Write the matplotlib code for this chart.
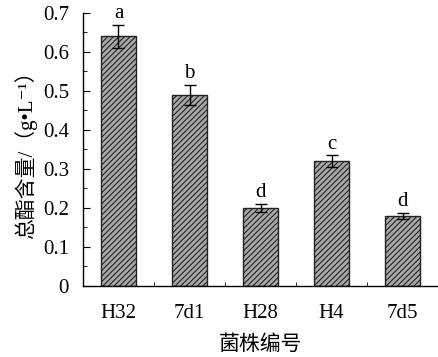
import matplotlib.pyplot as plt
from matplotlib.ticker import MultipleLocator, FixedLocator
import numpy as np

# data
strains = ['H32', '7d1', 'H28', 'H4', '7d5']
ester = [0.64, 0.49, 0.20, 0.32, 0.18]
err = [0.030, 0.025, 0.010, 0.015, 0.008]
letters = ['a', 'b', 'd', 'c', 'd']

plt.rcParams['font.family'] = ['Liberation Serif', 'Noto Sans CJK SC', 'DejaVu Sans']
plt.rcParams['hatch.linewidth'] = 0.8
plt.rcParams['hatch.color'] = '#222222'

fig = plt.figure(figsize=(4.39, 3.57), dpi=100)
ax = fig.add_axes([0.189, 0.199, 0.809, 0.765])

x = np.arange(len(strains))
ax.bar(x, ester, width=0.5, color='#a8a8a8', edgecolor='#222222',
       linewidth=1.0, hatch='//////', zorder=2)
ax.errorbar(x, ester, yerr=err, fmt='none', ecolor='black',
            elinewidth=1.0, capsize=4, capthick=1.0, zorder=3)

for xi, v, e, lab in zip(x, ester, err, letters):
    ax.text(xi, v + e + 0.004, lab, ha='center', va='bottom', fontsize=15)

ax.set_xlim(-0.5, 4.5)
ax.set_ylim(0, 0.7)
ax.set_xticks(x)
ax.set_xticklabels(strains, fontsize=15)
ax.xaxis.set_minor_locator(FixedLocator(x + 0.5))
yt = np.round(np.arange(0, 0.71, 0.1), 1)
ax.yaxis.set_major_locator(FixedLocator(yt))
ax.yaxis.set_minor_locator(MultipleLocator(0.05))
ax.set_yticklabels(['0'] + ['%.1f' % v for v in yt[1:]], fontsize=15)

ax.tick_params(axis='x', which='major', length=0, pad=13)
ax.tick_params(axis='x', which='minor', direction='in', length=3)
ax.tick_params(axis='y', which='major', direction='in', length=5, pad=10)
ax.tick_params(axis='y', which='minor', direction='in', length=3)

ax.spines['top'].set_visible(False)
ax.spines['right'].set_visible(False)
for s in ['left', 'bottom']:
    ax.spines[s].set_linewidth(1.0)

ax.set_xlabel('菌株编号', fontsize=15, labelpad=9)
ax.set_ylabel('总酯含量/（g•L⁻¹）', fontsize=15, labelpad=4)

fig.savefig('out.png', dpi=100)
